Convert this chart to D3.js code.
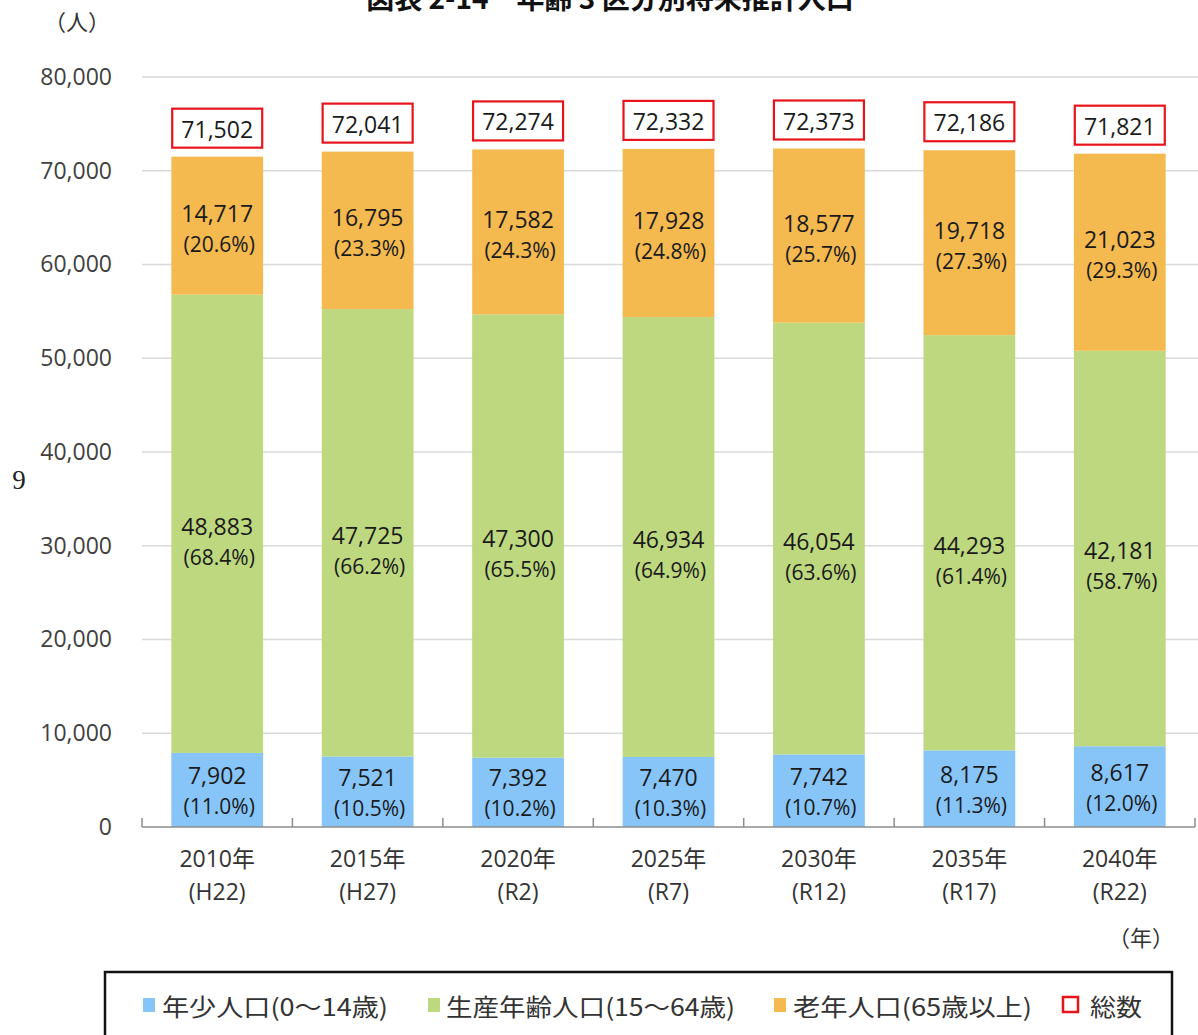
<!DOCTYPE html>
<html><head><meta charset="utf-8">
<script src="https://cdn.jsdelivr.net/npm/d3@7"></script>
<style>body{margin:0;background:#fff}svg{display:block}</style>
</head><body>
<script>
const years = ["2010年","2015年","2020年","2025年","2030年","2035年","2040年"];
const eras = ["(H22)","(H27)","(R2)","(R7)","(R12)","(R17)","(R22)"];
const young = [7902,7521,7392,7470,7742,8175,8617];
const working = [48883,47725,47300,46934,46054,44293,42181];
const old = [14717,16795,17582,17928,18577,19718,21023];
const total = [71502,72041,72274,72332,72373,72186,71821];
const youngPct = ["11.0%","10.5%","10.2%","10.3%","10.7%","11.3%","12.0%"];
const workingPct = ["68.4%","66.2%","65.5%","64.9%","63.6%","61.4%","58.7%"];
const oldPct = ["20.6%","23.3%","24.3%","24.8%","25.7%","27.3%","29.3%"];
const yTicks = [0,10000,20000,30000,40000,50000,60000,70000,80000];
const legendLabels = ["年少人口(0〜14歳)","生産年齢人口(15〜64歳)","老年人口(65歳以上)","総数"];

const W=1198,H=1035;
const font = "'Open Sans','Noto Sans CJK JP',sans-serif";
const cjk = "'Noto Sans CJK JP','Noto Sans',sans-serif";
const colors = ["#87C5F8","#BDD87F","#F4B94F"];
const svg = d3.select("body").append("svg").attr("width",W).attr("height",H).style("font-family",font);

const x = d3.scaleBand().domain(years).range([142,1195]).paddingInner(0.39).paddingOuter(0.195);
const y = d3.scaleLinear().domain([0,80000]).range([827,77]);

// title
svg.append("text").attr("x",610).attr("y",9).attr("text-anchor","middle")
  .style("font-family",cjk).style("font-size","28px").style("font-weight","bold").attr("fill","#111")
  .text("図表 2-14　年齢 3 区分別将来推計人口");
svg.append("text").attr("x",77).attr("y",30).attr("text-anchor","middle")
  .style("font-family",cjk).style("font-size","22px").attr("fill","#333").text("（人）");
svg.append("text").attr("x",19).attr("y",489).attr("text-anchor","middle")
  .style("font-family","'Liberation Serif','DejaVu Serif',serif").style("font-size","27px").attr("fill","#222").text("9");

// grid
svg.append("g").selectAll("line").data(yTicks.filter(d=>d>0)).join("line")
  .attr("x1",142).attr("x2",1198).attr("y1",d=>y(d)).attr("y2",d=>y(d))
  .attr("stroke","#d9d9d9").attr("stroke-width",1.5);

// y axis labels
const yAxis = d3.axisLeft(y).tickValues(yTicks).tickFormat(d3.format(",")).tickSize(0).tickPadding(0);
const gy = svg.append("g").attr("transform","translate(112,0)").call(yAxis);
gy.select(".domain").remove();
gy.selectAll("text").style("font-size","23px").style("font-family",font).attr("fill","#404040");

// stacks
const stackData = years.map((yr,i)=>({yr,young:young[i],working:working[i],old:old[i]}));
const series = d3.stack().keys(["young","working","old"])(stackData);
const pcts = [youngPct,workingPct,oldPct];
const offs = [[-15,16],[2,33],[-13,18]];
series.forEach((s,k)=>{
  const g = svg.append("g");
  g.selectAll("rect").data(s).join("rect")
    .attr("x",d=>x(d.data.yr)).attr("width",x.bandwidth())
    .attr("y",d=>y(d[1])).attr("height",d=>y(d[0])-y(d[1]))
    .attr("fill",colors[k]);
  s.forEach((d,i)=>{
    const cx = x(d.data.yr)+x.bandwidth()/2;
    const cy = (y(d[0])+y(d[1]))/2;
    g.append("text").attr("x",cx).attr("y",cy+offs[k][0]).attr("text-anchor","middle")
      .attr("dominant-baseline","central").style("font-size","23px").attr("fill","#1a1a1a")
      .text(d3.format(",")(d.data[s.key]));
    g.append("text").attr("x",cx+2).attr("y",cy+offs[k][1]).attr("text-anchor","middle")
      .attr("dominant-baseline","central").style("font-size","21px").attr("fill","#1a1a1a")
      .text("("+pcts[k][i]+")");
  });
});

// totals
const tg = svg.append("g");
years.forEach((yr,i)=>{
  const cx = x(yr)+x.bandwidth()/2;
  const top = y(total[i]);
  tg.append("rect").attr("x",cx-45).attr("width",90).attr("y",top-48).attr("height",39)
    .attr("fill","#fff").attr("stroke","#e8141c").attr("stroke-width",2.2);
  tg.append("text").attr("x",cx).attr("y",top-28).attr("text-anchor","middle")
    .attr("dominant-baseline","central").style("font-size","23px").attr("fill","#1a1a1a")
    .text(d3.format(",")(total[i]));
});

// x axis
const gx = svg.append("g").attr("transform","translate(0,827)");
gx.append("line").attr("x1",142).attr("x2",1195).attr("stroke","#8c8c8c").attr("stroke-width",1.5);
const bounds = years.map(yr=>x(yr)-x.step()*x.paddingInner()/2).concat([1195]);
bounds[0]=142;
gx.selectAll("line.t").data(bounds).join("line").attr("class","t")
  .attr("x1",d=>d).attr("x2",d=>d).attr("y1",-9).attr("y2",0).attr("stroke","#8c8c8c").attr("stroke-width",1.5);
years.forEach((yr,i)=>{
  const cx = x(yr)+x.bandwidth()/2;
  gx.append("text").attr("x",cx).attr("y",31).attr("text-anchor","middle").attr("dominant-baseline","central")
    .style("font-size","23px").attr("fill","#333").text(yr);
  gx.append("text").attr("x",cx).attr("y",64).attr("text-anchor","middle").attr("dominant-baseline","central")
    .style("font-size","23px").attr("fill","#333").text(eras[i]);
});
svg.append("text").attr("x",1141).attr("y",936).attr("text-anchor","middle").attr("dominant-baseline","central")
  .style("font-family",cjk).style("font-size","22px").attr("fill","#333").text("（年）");

// legend
const lg = svg.append("g");
lg.append("rect").attr("x",105).attr("y",972).attr("width",1067).attr("height",80)
  .attr("fill","#fff").attr("stroke","#111").attr("stroke-width",2.5);
const lx = [143,428,774,1063];
const tx = [162,446,793,1090];
const tw = [226,289,239,52];
legendLabels.forEach((t,i)=>{
  if(i<3) lg.append("rect").attr("x",lx[i]).attr("y",998).attr("width",12).attr("height",14).attr("fill",colors[i]);
  else lg.append("rect").attr("x",lx[i]).attr("y",997).attr("width",15).attr("height",15).attr("fill","none").attr("stroke","#e8141c").attr("stroke-width",2.5);
  lg.append("text").attr("x",tx[i]).attr("y",1005).attr("dominant-baseline","central")
    .style("font-family",cjk).style("font-size","24px").attr("fill","#333")
    .attr("textLength",tw[i]).attr("lengthAdjust","spacingAndGlyphs").text(t);
});
</script>
</body></html>
